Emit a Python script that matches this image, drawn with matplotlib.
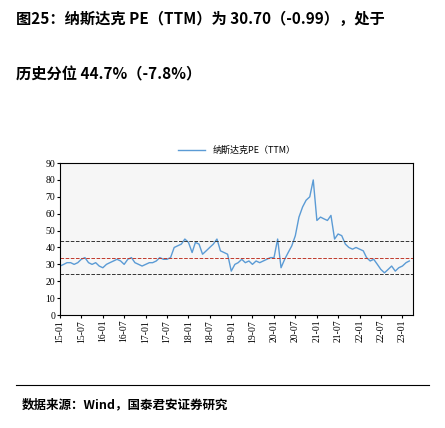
import pandas as pd
import matplotlib.pyplot as plt

plt.rcParams['font.family'] = ['Noto Sans CJK SC', 'DejaVu Sans']

# monthly PE (TTM) estimates, 2015-01 .. 2023-03
pe = [29, 30, 31, 31, 30, 31, 33, 34, 31, 30, 31, 29,
      28, 30, 31, 32, 33, 32, 30, 33, 34, 31, 30, 29,
      30, 31, 31, 32, 34, 33, 33, 34, 40, 41, 42, 45,
      43, 37, 43, 42, 36, 38, 40, 42, 45, 38, 37, 36,
      26, 30, 31, 33, 31, 32, 30, 32, 31, 32, 33, 34,
      34, 45, 28, 33, 37, 41, 47, 58, 64, 68, 70, 80,
      56, 58, 57, 56, 59, 45, 48, 47, 42, 40, 39, 40,
      39, 38, 34, 32, 33, 30, 27, 25, 27, 29, 26, 28,
      29, 31, 32]
dates = pd.date_range('2015-01-01', periods=len(pe), freq='MS')
mean_pe = 34.0
upper = 44.0
lower = 24.5
tick_labels = ['15-01', '15-07', '16-01', '16-07', '17-01', '17-07', '18-01', '18-07',
               '19-01', '19-07', '20-01', '20-07', '21-01', '21-07', '22-01', '22-07', '23-01']

fig = plt.figure(figsize=(4.45, 4.28), dpi=100)
fig.text(0.035, 0.945, '图25：纳斯达克 PE（TTM）为 30.70（-0.99），处于', fontsize=11, fontweight='bold')
fig.text(0.035, 0.815, '历史分位 44.7%（-7.8%）', fontsize=11, fontweight='bold')

ax = fig.add_axes([0.135, 0.264, 0.793, 0.355])
ax.set_facecolor('#f6f6f6')
ax.plot(dates, pe, color='#5b9bd5', lw=1.0, label='纳斯达克PE（TTM）')
ax.axhline(mean_pe, color='#c0392b', ls='--', lw=0.7)
ax.axhline(upper, color='#333333', ls='--', lw=0.7)
ax.axhline(lower, color='#333333', ls='--', lw=0.7)
ax.set_ylim(0, 90)
ax.set_yticks(range(0, 91, 10))
ax.set_xlim(pd.Timestamp('2015-01-01'), pd.Timestamp('2023-04-01'))
ticks = pd.to_datetime(['20' + t + '-01' for t in tick_labels])
ax.set_xticks(ticks)
ax.set_xticklabels(tick_labels, rotation=90, fontsize=7, family='Liberation Serif')
for lbl in ax.get_yticklabels():
    lbl.set_fontsize(7)
    lbl.set_family('Liberation Serif')
ax.tick_params(length=2, pad=1.5)
ax.legend(loc='lower center', bbox_to_anchor=(0.5, 1.0), frameon=False, fontsize=6.5, handlelength=3)

fig.add_artist(plt.Line2D([0.035, 0.965], [0.1, 0.1], color='black', lw=0.8))
fig.text(0.05, 0.045, '数据来源：Wind，国泰君安证券研究', fontsize=9, fontweight='bold')
fig.savefig('out.png', dpi=100)
